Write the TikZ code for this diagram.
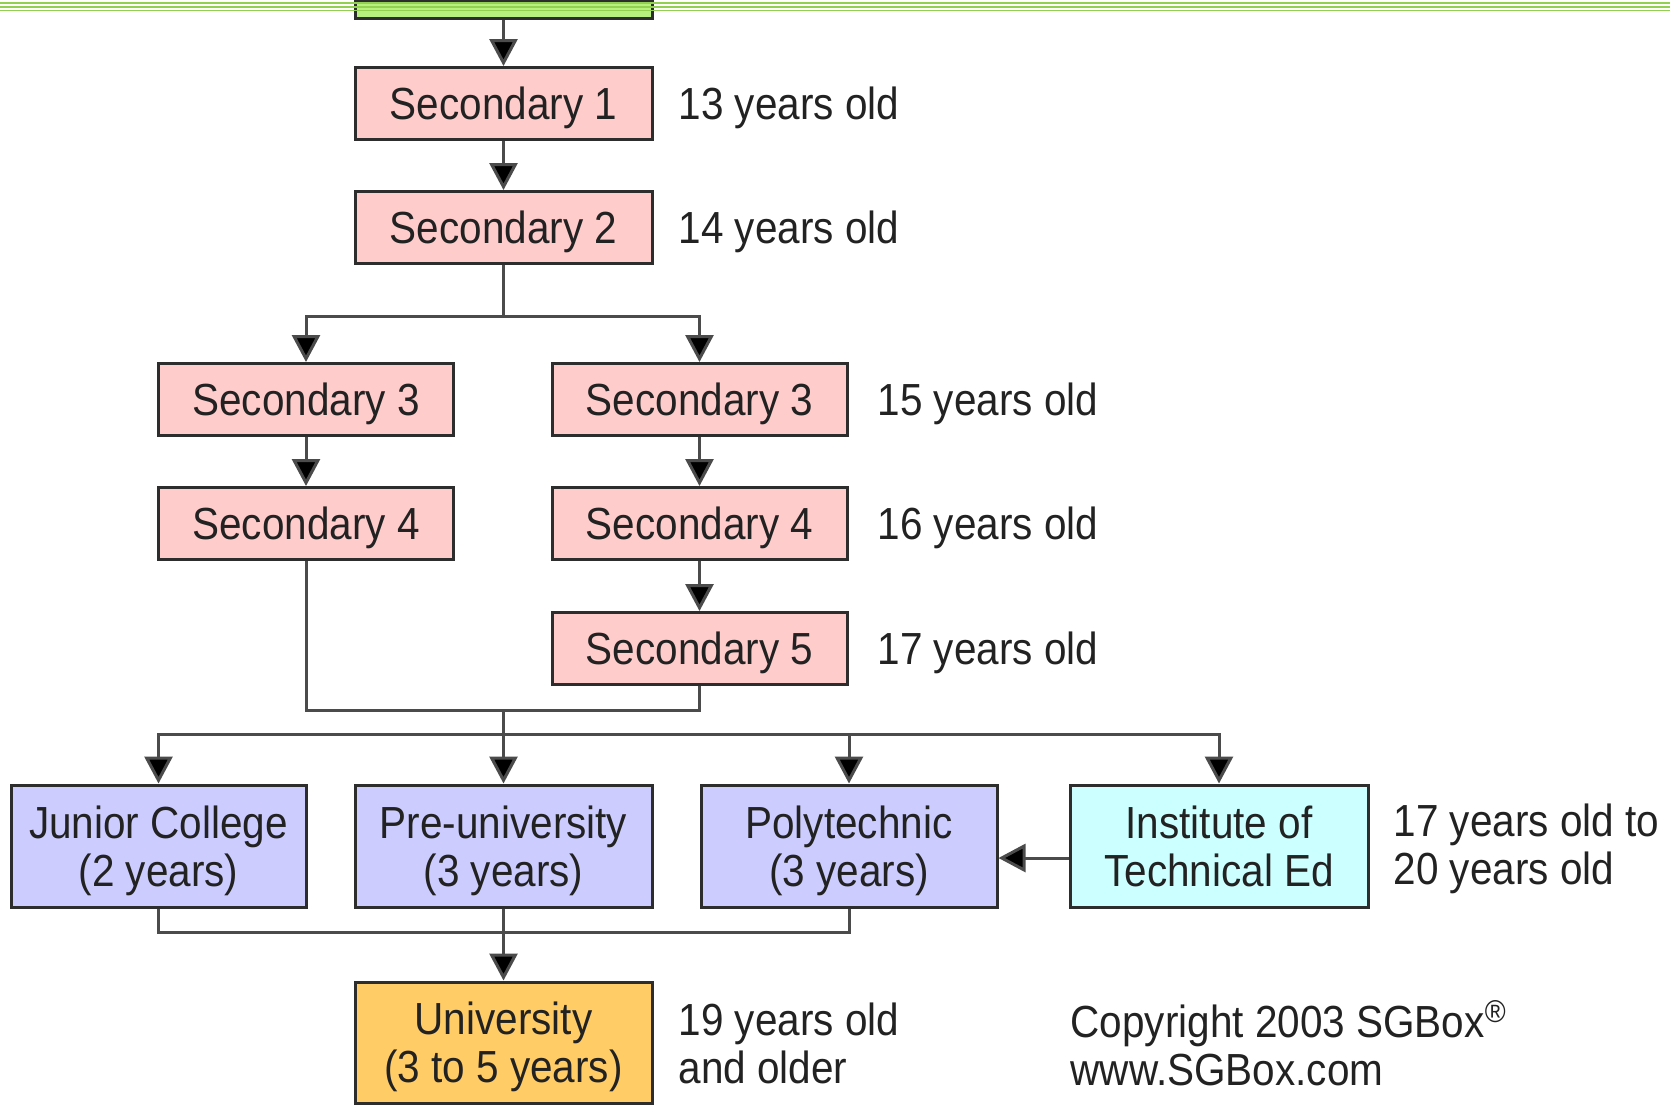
\documentclass[tikz,border=0pt]{standalone}
\usepackage{fontspec}
\setmainfont{Liberation Sans}[FakeStretch=0.9]
\usepackage{xcolor}
\usepackage{tikz}
\usetikzlibrary{positioning,arrows.meta}
\definecolor{secpink}{RGB}{255,204,204}
\definecolor{postblue}{RGB}{204,204,255}
\definecolor{techcyan}{RGB}{204,255,255}
\definecolor{uniorange}{RGB}{255,204,102}
\definecolor{primgreen}{RGB}{184,240,128}
\definecolor{pagegreen}{RGB}{146,208,80}
\definecolor{boxedge}{RGB}{45,45,45}
\definecolor{linkgray}{RGB}{75,75,75}
\definecolor{txt}{RGB}{34,34,34}

\tikzset{
  stage/.style={draw=boxedge, line width=0.03cm, minimum width=2.95cm, minimum height=0.72cm, align=center, text=txt, inner sep=0pt, text depth=0pt},
  after/.style={stage, minimum height=1.22cm},
  age/.style={anchor=west, align=left, text=txt, inner sep=0pt, text depth=0pt},
  link/.style={draw=linkgray, line width=0.03cm},
  arr/.style={link, -{Triangle[length=0.27cm,width=0.28cm,fill=black]}}
}

\begin{document}
\begin{tikzpicture}[font=\fontsize{12.8}{13.7}\selectfont]
\useasboundingbox (0,0) rectangle (16.7,-11.05);

% Primary (cut off at the top)
\node[stage, fill=primgreen, minimum height=0.18cm, minimum width=2.97cm] (prim) at (5.035,-0.09) {};
\draw[pagegreen, line width=0.023cm] (0,-0.028) -- (16.7,-0.028);
\draw[pagegreen, line width=0.02cm] (0,-0.067) -- (16.7,-0.067);
\draw[pagegreen, line width=0.012cm] (0,-0.102) -- (16.7,-0.102);

% Secondary school
\node[stage, fill=secpink, minimum width=2.97cm] (sec1) at (5.035,-1.035) {Secondary 1};
\node[stage, fill=secpink, minimum width=2.97cm] (sec2) at (5.035,-2.275) {Secondary 2};
\node[stage, fill=secpink] (sec3a) at (3.06,-3.995) {Secondary 3};
\node[stage, fill=secpink] (sec3b) at (6.995,-3.995) {Secondary 3};
\node[stage, fill=secpink] (sec4a) at (3.06,-5.235) {Secondary 4};
\node[stage, fill=secpink] (sec4b) at (6.995,-5.235) {Secondary 4};
\node[stage, fill=secpink] (sec5) at (6.995,-6.485) {Secondary 5};

% Post-secondary
\node[after, fill=postblue] (jc) at (1.585,-8.46) {Junior College\\(2 years)};
\node[after, fill=postblue, minimum width=2.97cm] (preu) at (5.035,-8.46) {Pre-university\\(3 years)};
\node[after, fill=postblue, minimum width=2.96cm] (poly) at (8.49,-8.46) {Polytechnic\\(3 years)};
\node[after, fill=techcyan, minimum width=2.98cm] (ite) at (12.19,-8.46) {Institute of\\Technical Ed};
\node[after, fill=uniorange, minimum width=2.97cm, minimum height=1.21cm] (uni) at (5.035,-10.425) {University\\(3 to 5 years)};

% Ages
\node[age] (age13) at (6.78,-1.035) {13 years old};
\node[age] (age14) at (6.78,-2.275) {14 years old};
\node[age] (age15) at (8.77,-3.995) {15 years old};
\node[age] (age16) at (8.77,-5.235) {16 years old};
\node[age] (age17) at (8.77,-6.485) {17 years old};
\node[age] (age1720) at (13.93,-8.44) {17 years old to\\20 years old};
\node[age] (age19) at (6.78,-10.43) {19 years old\\and older};
\node[age] (copy) at (10.70,-10.43) {Copyright 2003 SGBox\textsuperscript{®}\\www.SGBox.com};

% Junctions
\coordinate (split1) at (5.035,-3.16);
\coordinate (merge) at (5.035,-7.10);
\coordinate (split2) at (5.035,-7.34);
\coordinate (join) at (5.035,-9.32);

% Arrows
\draw[arr] (prim) -- (sec1);
\draw[arr] (sec1) -- (sec2);
\draw[link] (sec2) -- (split1);
\draw[arr] (split1) -| (sec3a);
\draw[arr] (split1) -| (sec3b);
\draw[arr] (sec3a) -- (sec4a);
\draw[arr] (sec3b) -- (sec4b);
\draw[arr] (sec4b) -- (sec5);
\draw[link] (sec4a) |- (merge);
\draw[link] (sec5) |- (merge);
\draw[link] (merge) -- (split2);
\draw[arr] (split2) -| (jc);
\draw[arr] (split2) -- (preu);
\draw[arr] (split2) -| (poly);
\draw[arr] (split2) -| (ite);
\draw[arr] ([yshift=-0.12cm]ite.west) -- ([yshift=-0.12cm]poly.east);
\draw[link] (jc) |- (join);
\draw[link] (poly) |- (join);
\draw[arr] (preu) -- (uni);
\end{tikzpicture}
\end{document}
